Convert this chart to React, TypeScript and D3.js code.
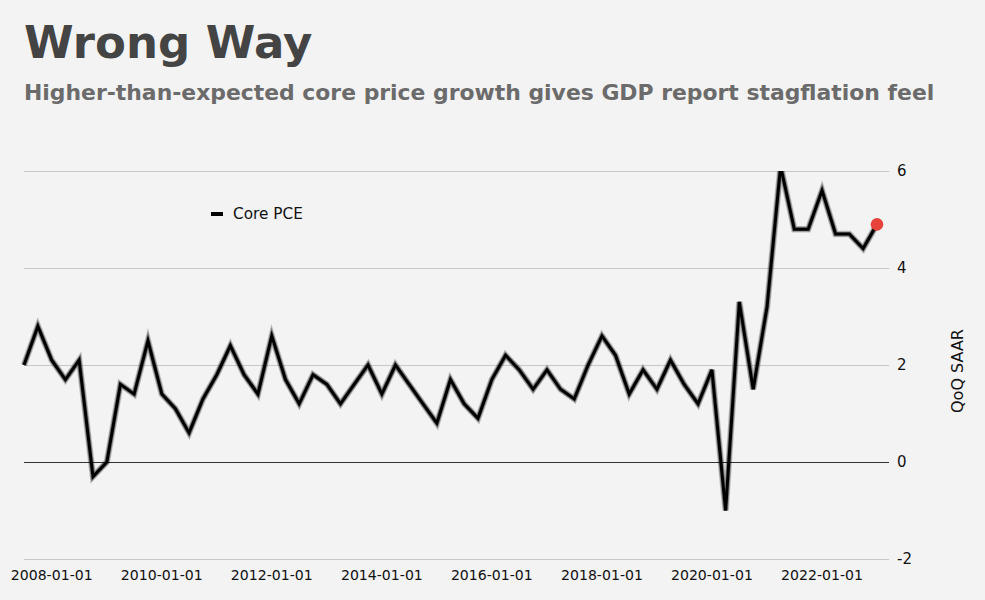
import React from "react";
import * as d3 from "d3";

const dates: string[] = [
  "2007-07-01","2007-10-01",
  "2008-01-01","2008-04-01","2008-07-01","2008-10-01",
  "2009-01-01","2009-04-01","2009-07-01","2009-10-01",
  "2010-01-01","2010-04-01","2010-07-01","2010-10-01",
  "2011-01-01","2011-04-01","2011-07-01","2011-10-01",
  "2012-01-01","2012-04-01","2012-07-01","2012-10-01",
  "2013-01-01","2013-04-01","2013-07-01","2013-10-01",
  "2014-01-01","2014-04-01","2014-07-01","2014-10-01",
  "2015-01-01","2015-04-01","2015-07-01","2015-10-01",
  "2016-01-01","2016-04-01","2016-07-01","2016-10-01",
  "2017-01-01","2017-04-01","2017-07-01","2017-10-01",
  "2018-01-01","2018-04-01","2018-07-01","2018-10-01",
  "2019-01-01","2019-04-01","2019-07-01","2019-10-01",
  "2020-01-01","2020-04-01","2020-07-01","2020-10-01",
  "2021-01-01","2021-04-01","2021-07-01","2021-10-01",
  "2022-01-01","2022-04-01","2022-07-01","2022-10-01",
  "2023-01-01",
];

const corePCE: number[] = [
  2.0, 2.8,
  2.1, 1.7, 2.1, -0.3,
  0.0, 1.6, 1.4, 2.5,
  1.4, 1.1, 0.6, 1.3,
  1.8, 2.4, 1.8, 1.4,
  2.6, 1.7, 1.2, 1.8,
  1.6, 1.2, 1.6, 2.0,
  1.4, 2.0, 1.6, 1.2,
  0.8, 1.7, 1.2, 0.9,
  1.7, 2.2, 1.9, 1.5,
  1.9, 1.5, 1.3, 2.0,
  2.6, 2.2, 1.4, 1.9,
  1.5, 2.1, 1.6, 1.2,
  1.9, -1.0, 3.3, 1.5,
  3.2, 6.1, 4.8, 4.8,
  5.6, 4.7, 4.7, 4.4,
  4.9,
];

const xTickLabels: string[] = [
  "2008-01-01","2010-01-01","2012-01-01","2014-01-01",
  "2016-01-01","2018-01-01","2020-01-01","2022-01-01",
];
const yTicks: number[] = [-2, 0, 2, 4, 6];

const title = "Wrong Way";
const subtitle = "Higher-than-expected core price growth gives GDP report stagflation feel";
const seriesName = "Core PCE";
const yTitle = "QoQ SAAR";

const W = 985;
const H = 600;
const FONT = "'DejaVu Sans', Verdana, sans-serif";

export default function App() {
  React.useEffect(() => {
    document.body.style.margin = "0";
    document.body.style.background = "#f3f3f3";
  }, []);

  const parse = d3.utcParse("%Y-%m-%d");
  const data = dates.map((d, i) => ({ date: parse(d) as Date, value: corePCE[i] }));

  const left = 24;
  const right = 889;
  const top = 171;
  const bottom = 559;

  const x = d3
    .scaleUtc()
    .domain(d3.extent(data, (d) => d.date) as [Date, Date])
    .range([left, 877]);
  const y = d3.scaleLinear().domain([-2, 6]).range([bottom, top]);

  const line = d3
    .line<{ date: Date; value: number }>()
    .x((d) => x(d.date))
    .y((d) => y(d.value))
    .curve(d3.curveLinear);
  const path = line(data) || "";
  const last = data[data.length - 1];

  return (
    <svg
      width={W}
      height={H}
      style={{ position: "absolute", left: 0, top: 0, background: "#f3f3f3" }}
      fontFamily={FONT}
    >
      <defs>
        <clipPath id="plotClip">
          <rect x={0} y={top} width={W} height={bottom - top + 20} />
        </clipPath>
      </defs>
      <rect x={0} y={0} width={W} height={H} fill="#f3f3f3" />
      <text x={24} y={58} fontSize={45} fontWeight="bold" fill="#444444">
        {title}
      </text>
      <text x={24} y={100} fontSize={21.9} fontWeight="bold" fill="#6b6b6b">
        {subtitle}
      </text>

      {yTicks.map((t) => (
        <g key={t}>
          <line
            x1={left}
            x2={right}
            y1={y(t) + 0.5}
            y2={y(t) + 0.5}
            stroke={t === 0 ? "#333333" : "#c8c8c8"}
            strokeWidth={1}
            shapeRendering="crispEdges"
          />
          <text x={897} y={y(t)} dy="0.35em" fontSize={15} fill="#111">
            {t}
          </text>
        </g>
      ))}

      {xTickLabels.map((s) => (
        <text
          key={s}
          x={x(parse(s) as Date)}
          y={580}
          fontSize={14.1}
          textAnchor="middle"
          fill="#111"
        >
          {s}
        </text>
      ))}

      <text
        transform={`translate(963,${(top + bottom) / 2 + 6}) rotate(-90)`}
        textAnchor="middle"
        fontSize={16}
        fill="#111"
      >
        {yTitle}
      </text>

      <g clipPath="url(#plotClip)">
        <path d={path} fill="none" stroke="#000" strokeOpacity={0.22} strokeWidth={6.5} strokeLinejoin="miter" />
        <path d={path} fill="none" stroke="#000" strokeOpacity={0.35} strokeWidth={4.8} strokeLinejoin="miter" />
        <path d={path} fill="none" stroke="#000" strokeWidth={3} strokeLinejoin="miter" />
      </g>
      <circle cx={x(last.date)} cy={y(last.value)} r={6.3} fill="#e8433b" />

      <line x1={211} x2={223} y1={214} y2={214} stroke="#000" strokeWidth={4} />
      <text x={233} y={214} dy="0.35em" fontSize={15.3} fill="#111">
        {seriesName}
      </text>
    </svg>
  );
}
